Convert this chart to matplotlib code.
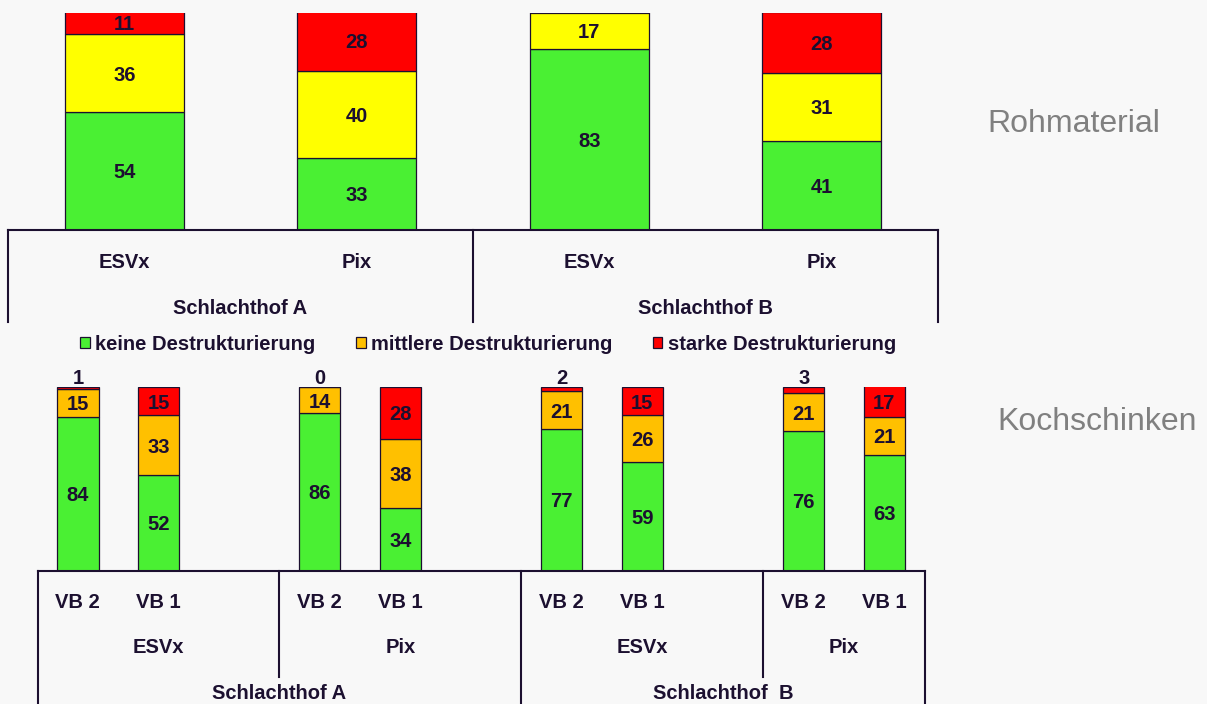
import numpy as np
import matplotlib
matplotlib.use("Agg")
import matplotlib.pyplot as plt

plt.rcParams['font.family'] = ['Liberation Sans', 'DejaVu Sans']

# Rohmaterial: keine / mittlere / starke Destrukturierung (%)
raw_groups = ['Schlachthof A', 'Schlachthof B']
raw_products = ['ESVx', 'Pix', 'ESVx', 'Pix']
raw_keine = [54, 33, 83, 41]
raw_mittlere = [36, 40, 17, 31]
raw_starke = [11, 28, 0, 28]

# Kochschinken: VB 2 / VB 1 je Produkt und Schlachthof (%)
ham_groups = ['Schlachthof A', 'Schlachthof  B']
ham_products = ['ESVx', 'Pix', 'ESVx', 'Pix']
ham_variants = ['VB 2', 'VB 1'] * 4
ham_keine = [84, 52, 86, 34, 77, 59, 76, 63]
ham_mittlere = [15, 33, 14, 38, 21, 26, 21, 21]
ham_starke = [1, 15, 0, 28, 2, 15, 3, 17]

legend_labels = ['keine Destrukturierung', 'mittlere Destrukturierung', 'starke Destrukturierung']

BG = '#f8f8f8'
INK = '#1c1030'
GREEN = '#4af033'
YELLOW = '#ffff00'
ORANGE = '#ffc000'
RED = '#ff0000'
GRAY = '#808080'
FS = 14.5

W, H = 1207, 704
fig = plt.figure(figsize=(W / 100, H / 100), dpi=100, facecolor=BG)


def px_axes(x0, x1, y_base, y_top):
    # axes placed by pixel box, y measured from the top of the figure
    return fig.add_axes([x0 / W, (H - y_base) / H, (x1 - x0) / W, (y_base - y_top) / H])


def stack(ax, x, layers, colors, width):
    bottom = np.zeros(len(x))
    bars = []
    for vals, col in zip(layers, colors):
        vals = np.array(vals, dtype=float)
        b = ax.bar(x, vals, width, bottom=bottom, color=col, edgecolor=INK, linewidth=0.9, zorder=3)
        bars.append(b)
        bottom = bottom + vals
    return bars


def vline(ax, x, y0, y1):
    ax.plot([x, x], [y0, y1], color=INK, lw=1.5, clip_on=False, zorder=4)


def bold(ax, x, y, s, fs=FS):
    ax.text(x, y, s, ha='center', va='center_baseline', fontsize=fs, fontweight='bold',
            color=INK, clip_on=False, zorder=5)


# ---- top panel: Rohmaterial ----
ax1 = px_axes(8, 938, 229.5, 12.5)
x1 = np.arange(len(raw_keine))
stack(ax1, x1, [raw_keine, raw_mittlere, raw_starke], [GREEN, YELLOW, RED], 0.512)
for i in x1:
    bottom = 0
    for v in (raw_keine[i], raw_mittlere[i], raw_starke[i]):
        if v > 0:
            bold(ax1, i, bottom + v / 2, str(v))
        bottom += v
ax1.set_xlim(-0.5, 3.5)
ax1.set_ylim(0, 100)
ax1.axis('off')
ax1.plot([-0.5, 3.5], [0, 0], color=INK, lw=1.5, clip_on=False, zorder=4)
for xv in (-0.5, 1.5, 3.5):
    vline(ax1, xv, 0, -42.6)
for i, p in enumerate(raw_products):
    bold(ax1, i, -14.1, p)
for g, name in enumerate(raw_groups):
    bold(ax1, 2 * g + 0.5, -35.3, name)
fig.text(1074 / W, (H - 124) / H, 'Rohmaterial', ha='center', va='center', fontsize=23, color=GRAY)

# ---- bottom panel: Kochschinken ----
ax2 = px_axes(37.5, 924.7, 570.5, 387.3)
# slots 2, 5, 8 stay empty as gaps between the products
x2 = np.array([0, 1, 3, 4, 6, 7, 9, 10])
bars = stack(ax2, x2, [ham_keine, ham_mittlere, ham_starke], [GREEN, ORANGE, RED], 0.513)
for j, xi in enumerate(x2):
    bottom = 0
    vals = (ham_keine[j], ham_mittlere[j], ham_starke[j])
    for k, v in enumerate(vals):
        if k == 2 and v < 5:
            bold(ax2, xi, bottom + v + 5.8, str(v))
        else:
            bold(ax2, xi, bottom + v / 2, str(v))
        bottom += v
ax2.set_xlim(-0.5, 10.5)
ax2.set_ylim(0, 100)
ax2.axis('off')
ax2.plot([-0.5, 10.5], [0, 0], color=INK, lw=1.5, clip_on=False, zorder=4)
for xv in (2.5, 8.5):
    vline(ax2, xv, 0, -58)
for xv in (-0.5, 5.5, 10.5):
    vline(ax2, xv, 0, -80)
for xi, v in zip(x2, ham_variants):
    bold(ax2, xi, -16.6, v)
for xc, p in zip([1.0, 4.0, 7.0, 9.5], ham_products):
    bold(ax2, xc, -41.2, p)
for xc, name in zip([2.5, 8.0], ham_groups):
    bold(ax2, xc, -66.3, name)
fig.text(1097 / W, (H - 422) / H, 'Kochschinken', ha='center', va='center', fontsize=23, color=GRAY)

leg = fig.legend([b[0] for b in bars], legend_labels, loc='center', ncol=3,
                 bbox_to_anchor=(488 / W, (H - 344) / H), frameon=False,
                 handlelength=0.47, handleheight=0.47, handletextpad=0.25, columnspacing=2.04,
                 borderpad=0, prop={'weight': 'bold', 'size': FS})
for t in leg.get_texts():
    t.set_color(INK)

fig.savefig('out.png', dpi=100, facecolor=BG)
